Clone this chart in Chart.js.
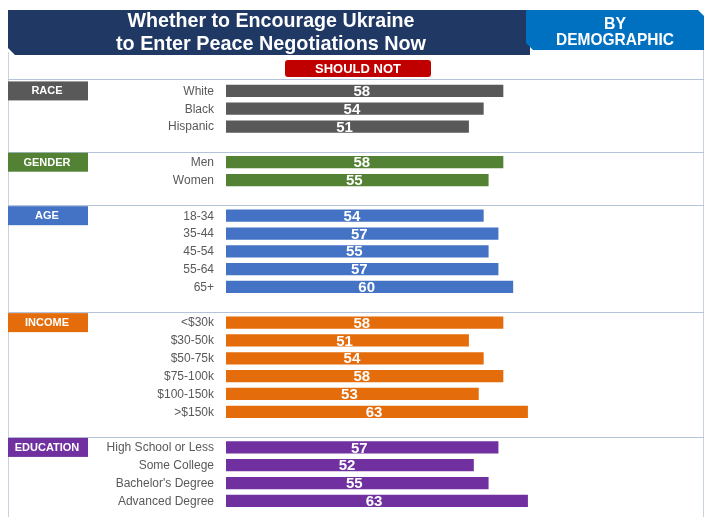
<!DOCTYPE html>
<html>
<head>
<meta charset="utf-8">
<script src="https://cdn.jsdelivr.net/npm/chart.js@4"></script>
<style>
  html, body { margin: 0; padding: 0; background: #fff; overflow: hidden; }
  #wrap { position: relative; width: 712px; height: 517px; overflow: hidden; }
</style>
</head>
<body>
<div id="wrap"><canvas id="chart" width="712" height="521"></canvas></div>
<script>
// groups, in order from top to bottom
const groupNames = ['RACE', 'GENDER', 'AGE', 'INCOME', 'EDUCATION'];
const groupColors = ['#595959', '#548235', '#4472c4', '#e46c0a', '#7030a0'];

const raceLabels = ['White', 'Black', 'Hispanic'];
const raceValues = [58, 54, 51];

const genderLabels = ['Men', 'Women'];
const genderValues = [58, 55];

const ageLabels = ['18-34', '35-44', '45-54', '55-64', '65+'];
const ageValues = [54, 57, 55, 57, 60];

const incomeLabels = ['<$30k', '$30-50k', '$50-75k', '$75-100k', '$100-150k', '>$150k'];
const incomeValues = [58, 51, 54, 58, 53, 63];

const educationLabels = ['High School or Less', 'Some College', "Bachelor's Degree", 'Advanced Degree'];
const educationValues = [57, 52, 55, 63];

const groupLabels = [raceLabels, genderLabels, ageLabels, incomeLabels, educationLabels];
const groupValues = [raceValues, genderValues, ageValues, incomeValues, educationValues];

// flatten with a blank row between groups
const labels = [];
const values = [];
const colors = [];
const groupStart = [];
groupLabels.forEach(function (g, i) {
  if (i > 0) { labels.push(''); values.push(null); colors.push('#fff'); }
  groupStart.push(labels.length);
  g.forEach(function (l, j) {
    labels.push(l);
    values.push(groupValues[i][j]);
    colors.push(groupColors[i]);
  });
});

const FONT = "'Liberation Sans', Arial, sans-serif";

// squeeze text horizontally to a given width (the original uses a condensed face)
function fitText(c, txt, x, y, w) {
  const m = c.measureText(txt).width;
  c.save();
  c.translate(x, y);
  c.scale(w / m, 1);
  c.fillText(txt, 0, 0);
  c.restore();
}

const decor = {
  id: 'decor',
  beforeDraw(chart) {
    const c = chart.ctx;
    const y = chart.scales.y;
    c.save();
    // frame
    c.strokeStyle = '#c9d3e0';
    c.lineWidth = 1;
    c.beginPath();
    c.moveTo(8.5, 52); c.lineTo(8.5, 521);
    c.moveTo(703.5, 50); c.lineTo(703.5, 521);
    c.stroke();
    // title band
    c.fillStyle = '#1f3864';
    c.beginPath();
    c.moveTo(8, 10); c.lineTo(530, 10); c.lineTo(530, 55);
    c.lineTo(15, 55); c.lineTo(8, 48); c.closePath();
    c.fill();
    c.fillStyle = '#0070c0';
    c.beginPath();
    c.moveTo(526, 10); c.lineTo(698, 10); c.lineTo(704, 16);
    c.lineTo(704, 50); c.lineTo(533, 50); c.lineTo(526, 43); c.closePath();
    c.fill();
    c.fillStyle = '#fff';
    c.textAlign = 'center';
    c.textBaseline = 'middle';
    c.font = 'bold 21px ' + FONT;
    fitText(c, 'Whether to Encourage Ukraine', 271, 21, 287);
    fitText(c, 'to Enter Peace Negotiations Now', 271, 44, 310);
    c.font = 'bold 17px ' + FONT;
    fitText(c, 'BY', 615, 24, 22);
    fitText(c, 'DEMOGRAPHIC', 615, 40, 118);
    // should not tag
    c.fillStyle = '#c00000';
    c.beginPath();
    c.roundRect(285, 60, 146, 17, 3);
    c.fill();
    c.fillStyle = '#fff';
    c.font = 'bold 13px ' + FONT;
    c.fillText('SHOULD NOT', 358, 69);
    // separators and group tags
    const row = y.getPixelForValue(1) - y.getPixelForValue(0);
    c.strokeStyle = '#b4c3d8';
    c.beginPath();
    c.moveTo(8, 79.5); c.lineTo(704, 79.5);
    c.stroke();
    groupStart.forEach(function (s, i) {
      const cy = y.getPixelForValue(s);
      if (i > 0) {
        const ly = Math.round(cy - row / 2 - 1.5) + 0.5;
        c.beginPath();
        c.moveTo(8, ly); c.lineTo(704, ly);
        c.stroke();
      }
      c.fillStyle = groupColors[i];
      c.fillRect(8, cy - 9.5, 80, 19);
      c.fillStyle = '#fff';
      c.font = 'bold 11px ' + FONT;
      c.fillText(groupNames[i], 47, cy + 0.5);
    });
    c.restore();
  },
  afterDatasetsDraw(chart) {
    const c = chart.ctx;
    const meta = chart.getDatasetMeta(0);
    c.save();
    c.fillStyle = '#fff';
    c.textAlign = 'center';
    c.textBaseline = 'middle';
    c.font = 'bold 15px ' + FONT;
    meta.data.forEach(function (bar, i) {
      if (values[i] == null) return;
      c.fillText(String(values[i]), (bar.base + bar.x) / 2, bar.y + 1);
    });
    c.restore();
  }
};

new Chart(document.getElementById('chart').getContext('2d'), {
  type: 'bar',
  data: {
    labels: labels,
    datasets: [{
      data: values,
      backgroundColor: colors,
      borderColor: 'rgba(255,255,255,0.35)',
      borderWidth: 1,
      barPercentage: 0.8,
      categoryPercentage: 1
    }]
  },
  options: {
    indexAxis: 'y',
    responsive: false,
    animation: false,
    layout: { padding: { left: 0, right: 9, top: 82, bottom: 0 } },
    plugins: { legend: { display: false }, tooltip: { enabled: false } },
    scales: {
      x: { display: false, min: 1.4, max: 98.4 },
      y: {
        grid: { display: false },
        border: { display: false },
        ticks: {
          autoSkip: false,
          padding: 4,
          labelOffset: 0.5,
          color: '#595959',
          font: { family: FONT, size: 12 }
        },
        afterFit(scale) { scale.width = 226; }
      }
    }
  },
  plugins: [decor]
});
</script>
</body>
</html>
